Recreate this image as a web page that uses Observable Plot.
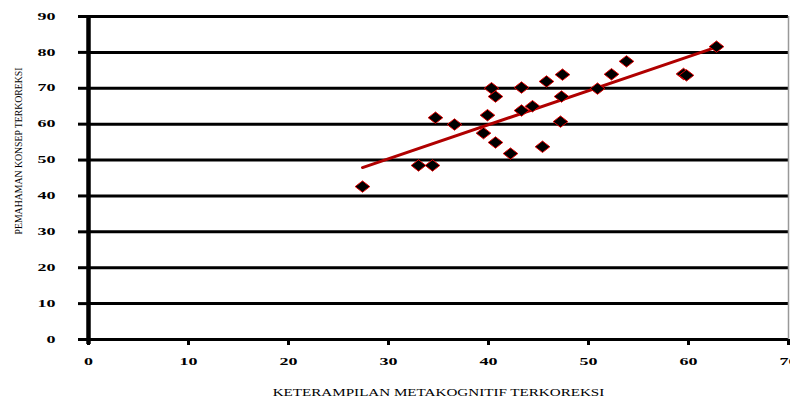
<!DOCTYPE html>
<html>
<head>
<meta charset="utf-8">
<script src="https://cdn.jsdelivr.net/npm/d3@7"></script>
<script src="https://cdn.jsdelivr.net/npm/@observablehq/plot@0.6"></script>
<style>
  html, body { margin: 0; padding: 0; background: #fff; }
  svg { display: block; }
</style>
</head>
<body>
<div id="chart"></div>
<script>
const xValues = [27.4, 33.0, 34.4, 34.7, 36.6, 39.5, 39.9, 40.3, 40.7, 40.7, 42.2, 43.3, 43.3, 44.4, 45.4, 45.8, 47.2, 47.3, 47.4, 50.9, 52.3, 53.8, 59.5, 59.8, 62.8];
const yValues = [42.6, 48.5, 48.5, 61.8, 59.9, 57.5, 62.5, 70.0, 67.7, 54.9, 51.8, 63.8, 70.2, 65.0, 53.7, 71.9, 60.7, 67.7, 73.8, 69.9, 73.9, 77.5, 74.0, 73.6, 81.6];
const xTicks = [0, 10, 20, 30, 40, 50, 60, 70];
const yTicks = [0, 10, 20, 30, 40, 50, 60, 70, 80, 90];
const xTitle = "KETERAMPILAN METAKOGNITIF TERKOREKSI";
const yTitle = "PEMAHAMAN KONSEP TERKOREKSI";

const data = xValues.map((x, i) => ({x, y: yValues[i]}));

const wideDiamond = {
  draw(context, size) {
    const w = Math.sqrt(size) * 0.75, h = w * 0.78;
    context.moveTo(-w, 0);
    context.lineTo(0, -h);
    context.lineTo(w, 0);
    context.lineTo(0, h);
    context.closePath();
  }
};

const chart = Plot.plot({
  width: 790,
  height: 398,
  marginTop: 16,
  marginBottom: 59,
  marginLeft: 88,
  marginRight: 2,
  style: {background: "#fff", fontFamily: "Liberation Serif, Times New Roman, serif"},
  x: {domain: [0, 70]},
  y: {domain: [0, 90]},
  marks: [
    Plot.ruleY(yTicks, {stroke: "black", strokeWidth: 3}),
    Plot.ruleX([70], {stroke: "#999", strokeWidth: 1.5}),
    Plot.axisY({ticks: yTicks, tickSize: 10, tickPadding: 23, strokeWidth: 3, label: null,
      fontSize: 10, fontWeight: "bold", fill: "black"}),
    Plot.axisX({ticks: xTicks, tickSize: 6, tickPadding: 12, strokeWidth: 3, label: null,
      fontSize: 10, fontWeight: "bold", fill: "black"}),
    Plot.ruleX([0], {stroke: "black", strokeWidth: 4.5, insetBottom: -5}),
    Plot.linearRegressionY(data, {x: "x", y: "y", stroke: "#b00000", strokeWidth: 3, ci: 0}),
    Plot.dot(data, {x: "x", y: "y", symbol: wideDiamond, r: 5.5, fill: "black", stroke: "#e00000", strokeWidth: 1}),
    Plot.text([yTitle], {frameAnchor: "left", dx: -70, dy: -27, rotate: -90, textAnchor: "middle",
      fontSize: 10.5, fill: "black"}),
    Plot.text([xTitle], {frameAnchor: "bottom", dy: 53, textAnchor: "middle", lineAnchor: "middle",
      fontSize: 10.5, fill: "black"})
  ]
});

// horizontally stretch/compress texts to match the reference typeface proportions
const svg = d3.select(chart);
function stretch(node, sx) {
  const t = node.getAttribute("transform") || "";
  node.setAttribute("transform", `${t} scale(${sx},1)`);
}
svg.selectAll("text").each(function() {
  const txt = this.textContent;
  if (txt === xTitle) stretch(this, 1.44);
  else if (txt === yTitle) stretch(this, 0.93);
  else if (/^\d+$/.test(txt)) stretch(this, 1.8);
});
document.getElementById("chart").appendChild(chart);
</script>
</body>
</html>
